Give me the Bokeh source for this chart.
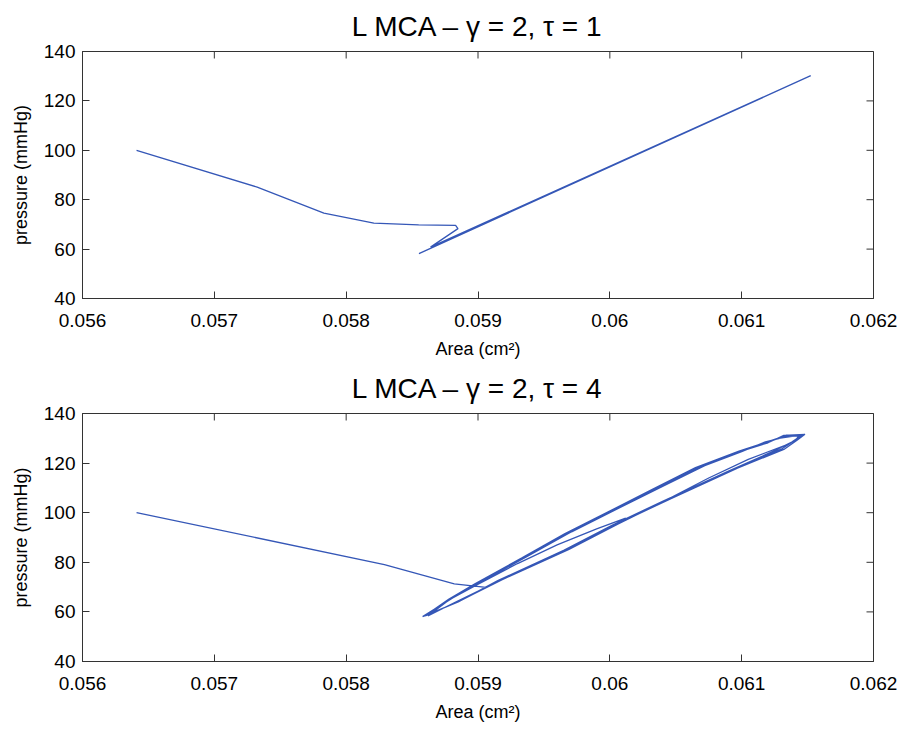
import math
from bokeh.plotting import figure
from bokeh.layouts import column
from bokeh.models import FixedTicker, Range1d
from bokeh.embed import file_html
from bokeh.resources import INLINE

# ---------------- data ----------------
titles = ["L MCA \u2013 \u03b3 = 2, \u03c4 = 1", "L MCA \u2013 \u03b3 = 2, \u03c4 = 4"]
x_label = "Area (cm\u00b2)"
y_label = "pressure (mmHg)"
x_ticks = [0.056, 0.057, 0.058, 0.059, 0.06, 0.061, 0.062]
x_tick_labels = ["0.056", "0.057", "0.058", "0.059", "0.06", "0.061", "0.062"]
y_ticks = [40, 60, 80, 100, 120, 140]

# tau = 1
area_tau1 = [0.05641, 0.057325, 0.057831, 0.05821, 0.05855, 0.05883, 0.058848,
             0.05864, 0.061524, 0.058552]
pres_tau1 = [100.0, 85.1, 74.6, 70.5, 69.8, 69.6, 68.3, 60.8, 130.2, 58.2]

# tau = 4 : transient + several loops + tail
area_tau4 = [
    0.05641, 0.05829, 0.05882, 0.05906, 0.05885, 0.05862,
    0.05880, 0.05900, 0.05935, 0.05968, 0.06003, 0.06035, 0.06069, 0.06095, 0.06120, 0.06132, 0.06148,
    0.06142, 0.06132, 0.06094, 0.06044, 0.06005, 0.05968, 0.05917, 0.05885, 0.05859,
    0.05882, 0.05903, 0.05938, 0.05971, 0.06006, 0.06040, 0.06072, 0.06100, 0.06118, 0.06135, 0.06145,
    0.06138, 0.06125, 0.06090, 0.06040, 0.06002, 0.05965, 0.05915, 0.05884, 0.05860,
    0.05878, 0.05898, 0.05933, 0.05966, 0.06001, 0.06033, 0.06065, 0.06090, 0.06112, 0.06128, 0.06146,
    0.06140, 0.06128, 0.06096, 0.06046, 0.06007, 0.05970, 0.05919, 0.05886, 0.05858,
    0.05881, 0.05901, 0.05936, 0.05969, 0.06004, 0.06037, 0.06070, 0.06098, 0.06116, 0.06130, 0.06147,
    0.06136, 0.06105, 0.06075, 0.06042, 0.06004, 0.05967, 0.05916, 0.05884, 0.05860,
    0.05879, 0.05900, 0.05934, 0.05967, 0.06002, 0.06036, 0.06068, 0.06094, 0.06119, 0.06134, 0.06144,
    0.06141, 0.06130, 0.06093, 0.06043, 0.06006, 0.05969, 0.05918, 0.05885, 0.05859,
    0.05878, 0.05898, 0.05930, 0.05960, 0.05990, 0.06012, 0.05995, 0.06010, 0.06026,
]
pres_tau4 = [
    100.0, 79.1, 71.3, 69.9, 64.5, 58.4,
    65.6, 71.8, 82.0, 91.9, 101.3, 110.0, 118.8, 124.0, 128.2, 131.2, 131.6,
    129.2, 125.5, 117.4, 105.3, 95.5, 85.1, 73.0, 64.0, 58.3,
    66.0, 72.3, 82.6, 92.3, 101.6, 110.6, 119.0, 124.6, 128.6, 130.8, 131.0,
    128.5, 125.0, 116.8, 104.6, 95.0, 84.8, 72.6, 63.8, 58.5,
    65.2, 71.4, 81.7, 91.6, 101.0, 109.6, 118.2, 123.2, 127.0, 130.0, 131.4,
    129.0, 125.8, 117.8, 105.6, 95.8, 85.5, 73.3, 64.3, 58.1,
    65.8, 72.0, 82.3, 92.1, 101.5, 110.3, 119.2, 124.8, 128.0, 130.5, 131.5,
    127.8, 121.5, 114.0, 104.9, 95.2, 84.9, 72.8, 63.9, 58.4,
    65.4, 71.7, 81.9, 91.8, 101.2, 110.1, 118.6, 123.8, 128.4, 131.3, 131.4,
    129.4, 125.6, 117.3, 105.1, 95.4, 85.2, 72.9, 64.1, 58.3,
    64.8, 70.6, 79.5, 87.0, 93.5, 97.8, 92.6, 96.8, 100.6,
]

LINE = "#3557b7"
FONT = "Liberation Sans"
AXC = "#333333"
X0, X1 = x_ticks[0], x_ticks[-1]
Y0, Y1 = y_ticks[0], y_ticks[-1]


def style_axis(ax):
    ax.major_tick_in = 7
    ax.major_tick_out = 0
    ax.minor_tick_line_color = None
    ax.axis_line_color = AXC
    ax.major_tick_line_color = AXC
    ax.major_label_text_font = FONT
    ax.major_label_text_color = "black"
    ax.major_label_text_font_size = "19px"
    ax.axis_label_text_font = FONT
    ax.axis_label_text_font_style = "normal"
    ax.axis_label_text_color = "black"
    ax.axis_label_text_font_size = "18px"


def make_fig(title, xs, ys, border_top, border_bottom, fh):
    p = figure(frame_width=791, frame_height=fh, output_backend="svg",
               toolbar_location=None,
               x_range=Range1d(X0, X1), y_range=Range1d(Y0, Y1),
               min_border_left=82, min_border_right=30,
               min_border_top=border_top, min_border_bottom=border_bottom)
    p.title.text = title
    p.title.align = "center"
    p.title.vertical_align = "top"
    p.title.text_font = FONT
    p.title.text_font_size = "28px"
    p.title.text_font_style = "normal"
    p.title.text_color = "black"
    p.title.standoff = 16
    p.grid.visible = False
    p.outline_line_color = AXC
    p.background_fill_color = "white"
    p.border_fill_color = "white"

    xa = p.xaxis[0]
    ya = p.yaxis[0]
    xa.ticker = FixedTicker(ticks=x_ticks)
    xa.major_label_overrides = {t: l for t, l in zip(x_ticks, x_tick_labels)}
    ya.ticker = FixedTicker(ticks=y_ticks)
    style_axis(xa)
    style_axis(ya)
    xa.major_label_standoff = 15
    ya.major_label_standoff = 7
    xa.axis_label = x_label
    ya.axis_label = y_label
    xa.axis_label_standoff = 9
    ya.axis_label_standoff = 10

    # inward ticks on the top and right edges of the box (clipped to the frame)
    p.scatter(x_ticks, [Y1] * len(x_ticks), marker="dash", size=14,
              angle=math.pi / 2, line_color=AXC, line_width=1)
    p.scatter([X1] * len(y_ticks), y_ticks, marker="dash", size=14,
              line_color=AXC, line_width=1)

    p.line(xs, ys, line_color=LINE, line_width=1.3)
    return p


p1 = make_fig(titles[0], area_tau1, pres_tau1, 51, 66, 247)
p2 = make_fig(titles[1], area_tau4, pres_tau4, 43, 50, 248)

layout = column(p1, p2, spacing=0)
open("out.html", "w").write(file_html(layout, INLINE))
